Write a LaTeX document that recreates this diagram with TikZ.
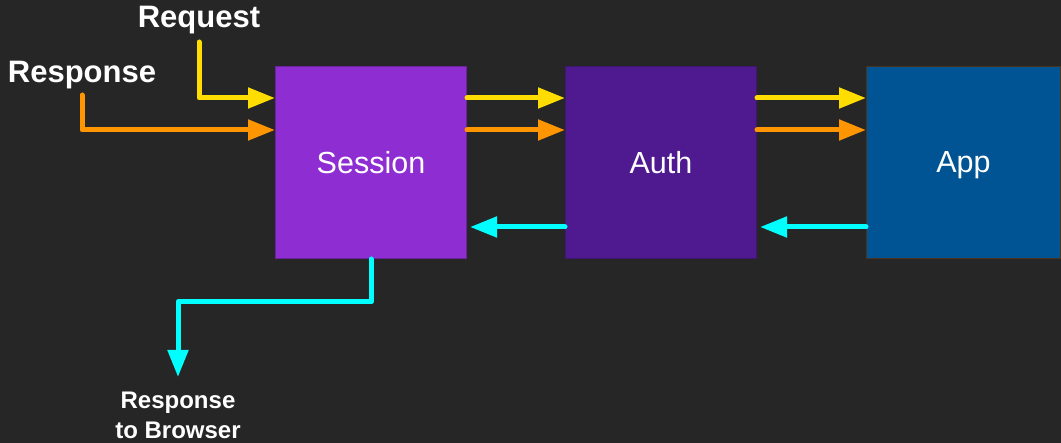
\documentclass[tikz,border=0pt]{standalone}
\usepackage{fontspec}
\setmainfont{Liberation Sans}
\usepackage{xcolor}
\usetikzlibrary{positioning}
\usetikzlibrary{arrows.meta,calc}

\definecolor{bg}{HTML}{262626}
\definecolor{sessfill}{HTML}{8E2DD1}
\definecolor{authfill}{HTML}{4F1A8F}
\definecolor{appfill}{HTML}{005494}
\definecolor{reqcol}{HTML}{FFDD00}
\definecolor{respcol}{HTML}{FF9500}
\definecolor{backcol}{HTML}{00FFFF}

\begin{document}
\begin{tikzpicture}[
x=1pt, y=-1pt,
node distance = 99pt,
>={Triangle[length=27pt,width=20pt]},
layer/.style={rectangle, minimum width=191pt, minimum height=192pt, line width=1pt, text depth=0pt, text=white, font=\fontsize{30.5}{36}\selectfont},
label/.style={text=white, inner sep=0pt, font=\bfseries\fontsize{31}{36}\selectfont},
req/.style={->, line width=5pt, line cap=round, line join=round, draw=reqcol},
resp/.style={->, line width=5pt, line cap=round, line join=round, draw=respcol},
back/.style={->, line width=5pt, line cap=round, line join=round, draw=backcol}]
\useasboundingbox[fill=bg] (0,0) rectangle (1061,443);

\node [layer, fill=sessfill, draw=sessfill!75!black] (session) at (371,162.5) {Session};
\node [layer, fill=authfill, draw=authfill!80!black] (auth) [right=98pt of session] {Auth};
\node [layer, fill=appfill, draw=brown!40!black, minimum width=194pt] (app) [right=109pt of auth] {App};

\node [label] (request) at (199,20) {Request};
\node [label] (response) at (82,75) {Response};
\node [label, align=center, font=\bfseries\fontsize{24}{30}\selectfont] (browser) at (178,415) {Response\\to Browser};

\coordinate (reqin) at (199,42);
\coordinate (respin) at (82,95);
\coordinate (out) at (178,377);

% request and response into the chain
\draw [req] (reqin) |- ([yshift=64.5pt]session.west);
\draw [resp] (respin) |- ([yshift=32.5pt]session.west);
\draw [req] ([yshift=64.5pt]session.east) -- ([yshift=64.5pt]auth.west);
\draw [resp] ([yshift=32.5pt]session.east) -- ([yshift=32.5pt]auth.west);
\draw [req] ([yshift=64.5pt]auth.east) -- ([yshift=64.5pt]app.west);
\draw [resp] ([yshift=32.5pt]auth.east) -- ([yshift=32.5pt]app.west);

% way back
\draw [back, shorten >=3pt] ([yshift=-64.5pt]app.west) -- ([yshift=-64.5pt]auth.east);
\draw [back, shorten >=3pt] ([yshift=-64.5pt]auth.west) -- ([yshift=-64.5pt]session.east);
\draw [back] (session.south) -- ++(0,43) -| (out);
\end{tikzpicture}
\end{document}
